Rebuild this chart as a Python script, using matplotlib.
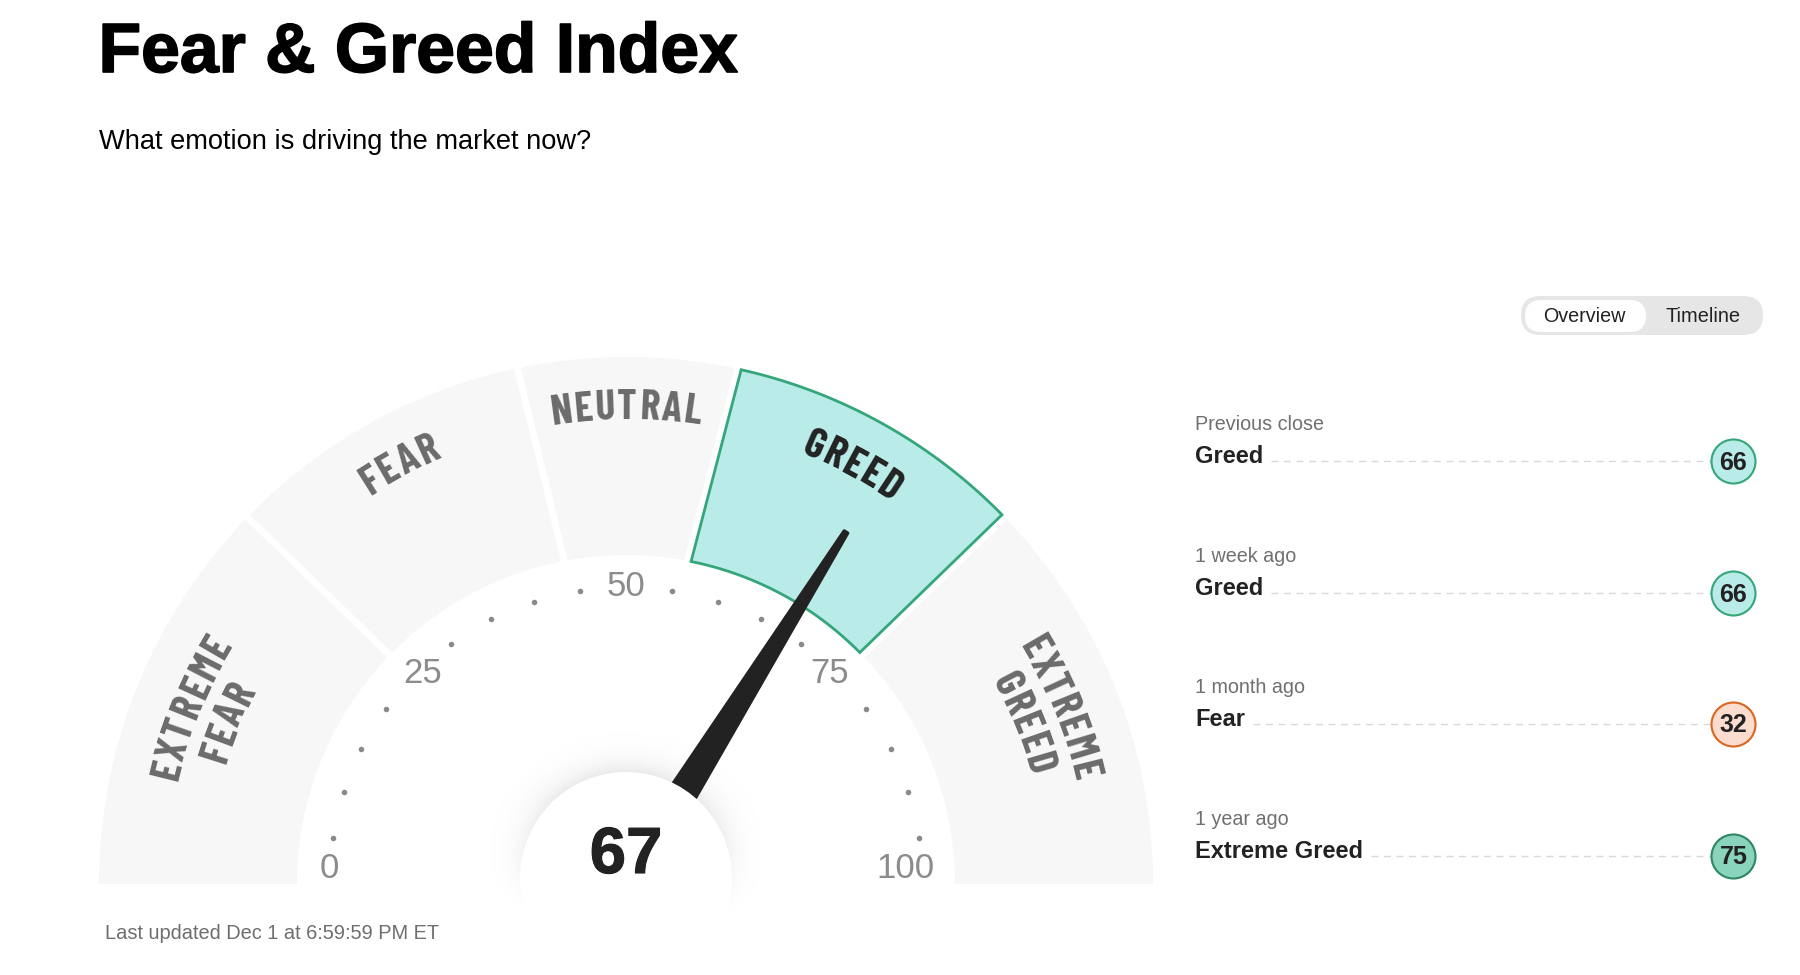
import numpy as np
import matplotlib
matplotlib.use('Agg')
import matplotlib.pyplot as plt
import matplotlib.patheffects as pe
from matplotlib.font_manager import FontProperties
from matplotlib.patches import Polygon, Circle, FancyBboxPatch
from matplotlib.textpath import TextToPath

score = 67
band_names = ['EXTREME FEAR', 'FEAR', 'NEUTRAL', 'GREED', 'EXTREME GREED']
# the band edges splay a little, so they read differently on the inner and outer rim
band_edges_inner = [0, 24.5, 44, 56, 75.5, 100]
band_edges_outer = [0, 24.5, 43.4, 56.8, 75.5, 100]
active_band = 'GREED'
dot_values = [5, 10, 15, 20, 30, 35, 40, 45, 55, 60, 65, 70, 80, 85, 90, 95]
tick_values = [0, 25, 50, 75, 100]
tick_pull = [1.0, 0.97, 1.0, 0.97, 0.942]

row_periods = ['Previous close', '1 week ago', '1 month ago', '1 year ago']
row_ratings = ['Greed', 'Greed', 'Fear', 'Extreme Greed']
row_scores = [66, 66, 32, 75]

rating_colors = {
    'Greed': ('#b9ebe9', '#35a67a'),
    'Fear': ('#fcdccf', '#d9661f'),
    'Extreme Greed': ('#8ad3bc', '#2c8763'),
}

CX, CY = 626, 884
R_OUT, R_IN = 527, 329
GAP = 7
SANS = 'Liberation Sans'
NARROW = ['Barlow Condensed', 'Roboto Condensed', 'Liberation Sans']

dpi = 100
fig = plt.figure(figsize=(18, 9.75), dpi=dpi)
ax = fig.add_axes([0, 0, 1, 1])
ax.set_xlim(0, 1800)
ax.set_ylim(975, 0)
ax.axis('off')


def angle(value):
    return 180 - value * 1.8


def polar(value_angle, r):
    a = np.radians(value_angle)
    return CX + r * np.cos(a), CY - r * np.sin(a)


def band_polygon(i):
    pts = []
    for r, edges in ((R_OUT, band_edges_outer), (R_IN, band_edges_inner)):
        lo, hi = edges[i], edges[i + 1]
        da = np.degrees(np.arcsin(GAP / 2 / r))
        a0 = angle(lo) - (da if lo > 0 else 0)
        a1 = angle(hi) + (da if hi < 100 else 0)
        arc = np.linspace(a0, a1, 80) if r == R_OUT else np.linspace(a1, a0, 80)
        pts += [polar(a, r) for a in arc]
    return pts


def curved_text(text, r, mid_angle, size, color, tracking=1.0):
    prop = FontProperties(family=NARROW, weight='bold', size=size)
    ttp = TextToPath()
    widths = [ttp.get_text_width_height_descent(c, prop, False)[0] * dpi / 72 * tracking for c in text]
    total = sum(widths)
    pos = -total / 2
    for c, w in zip(text, widths):
        a = mid_angle - np.degrees((pos + w / 2) / r)
        x, y = polar(a, r)
        ax.text(x, y, c, fontproperties=prop, color=color, rotation=a - 90,
                rotation_mode='anchor', ha='center', va='baseline', zorder=6)
        pos += w


# gauge bands
for i, name in enumerate(band_names):
    if name == active_band:
        fc, ec = rating_colors['Greed']
        ax.add_patch(Polygon(band_polygon(i), closed=True, fc=fc, ec=ec, lw=2, joinstyle='miter', zorder=3))
        color = '#222222'
    else:
        ax.add_patch(Polygon(band_polygon(i), closed=True, fc='#f7f7f7', ec='none', zorder=2))
        color = '#6b6b6b'
    mid = angle((band_edges_inner[i] + band_edges_inner[i + 1]) / 2)
    words = name.split(' ')
    if len(words) == 1:
        curved_text(name, 465, mid, 30, color, 1.1)
    else:
        curved_text(words[0], 460, mid, 30, color, 1.1)
        curved_text(words[1], 418, mid, 30, color, 1.1)

# dots and numbers
for v in dot_values:
    x, y = polar(angle(v), 297)
    ax.plot([x], [y], 'o', ms=4, color='#8a8a8a', mec='none', zorder=4)
for v, pull in zip(tick_values, tick_pull):
    x, y = polar(angle(v), 297)
    x = CX + (x - CX) * pull
    y = min(y, CY - 15)
    ax.text(x, y, str(v), fontsize=25, family=SANS, color='#8c8c8c', ha='center', va='center', zorder=4)

# hub shadow
hub_y = 878
hub_r = 106
yy, xx = np.mgrid[710:950, 470:790]
dist = np.hypot(xx - CX, yy - hub_y)
alpha = 0.09 * np.exp(-np.clip(dist - hub_r, 0, None) / 13.0)
alpha *= np.clip((915 - yy) / 120.0, 0, 1)
shade = np.zeros(dist.shape + (4,))
shade[..., 3] = alpha
ax.imshow(shade, extent=(470, 790, 950, 710), interpolation='bilinear', zorder=4.5, aspect='auto')
ax.set_xlim(0, 1800)
ax.set_ylim(975, 0)

# needle, the hub covers its foot
needle_angle = angle(score) - 1.4
nx, ny = np.cos(np.radians(needle_angle)), -np.sin(np.radians(needle_angle))
px, py = -ny, nx
tip_r, foot_r = 415, 90
tip = (CX + nx * tip_r, CY + ny * tip_r)
foot = (CX + nx * foot_r, CY + ny * foot_r)
needle = [(tip[0] + px * 2, tip[1] + py * 2), (tip[0] - px * 2, tip[1] - py * 2),
          (foot[0] - px * 14, foot[1] - py * 14), (foot[0] + px * 14, foot[1] + py * 14)]
ax.add_patch(Polygon(needle, closed=True, fc='#222222', ec='#222222', lw=2.5, joinstyle='round', zorder=5))
ax.add_patch(Circle((CX, hub_y), hub_r, fc='white', ec='none', zorder=5.5))
big = ax.text(CX, 856, str(score), fontsize=47, family=SANS, weight='bold', color='#222222',
              ha='center', va='center', zorder=7)
big.set_path_effects([pe.withStroke(linewidth=0.8, foreground='#222222')])

# headings
title = ax.text(98.5, 72, 'Fear & Greed Index', fontsize=50.2, family=SANS, weight='bold', color='black', va='baseline')
title.set_path_effects([pe.withStroke(linewidth=1.2, foreground='black')])
ax.text(99, 149, 'What emotion is driving the market now?', fontsize=19.6, family=SANS, color='black', va='baseline')
ax.text(105, 939, 'Last updated Dec 1 at 6:59:59 PM ET', fontsize=14.4, family=SANS, color='#6e6e6e', va='baseline')

# toggle
ax.add_patch(FancyBboxPatch((1521, 296), 242, 39, boxstyle='round,pad=0,rounding_size=19.5',
                            fc='#e6e6e6', ec='none', zorder=2))
ax.add_patch(FancyBboxPatch((1525, 300), 121, 32, boxstyle='round,pad=0,rounding_size=16',
                            fc='white', ec='none', zorder=3))
ax.text(1584, 316, 'Overview', fontsize=14.2, family=SANS, color='#222222', ha='center', va='center', zorder=4)
ax.text(1702.5, 316, 'Timeline', fontsize=14.4, family=SANS, color='#222222', ha='center', va='center', zorder=4)

# history rows
row_y = [461.5, 593.5, 724.5, 856.5]
for y, period, rating, val in zip(row_y, row_periods, row_ratings, row_scores):
    ax.text(1195, y - 37, period, fontsize=14.2, family=SANS, color='#707070', va='center')
    t = ax.text(1195, y - 5, rating, fontsize=17, family=SANS, weight='bold', color='#222222', va='center')
    end = t.get_window_extent(fig.canvas.get_renderer()).x1
    ax.plot([end + 8, 1711], [y - 1, y - 1], color='#d9d9d9', lw=1, dashes=(5, 4), zorder=1)
    fc, ec = rating_colors[rating]
    ax.add_patch(Circle((1733.5, y), 22, fc=fc, ec=ec, lw=1.5, zorder=3))
    ax.text(1733.5, y + 1, str(val), fontsize=18, family=SANS, weight='bold', color='#222222',
            ha='center', va='center', zorder=4)

fig.savefig('out.png', dpi=dpi, facecolor='white')
